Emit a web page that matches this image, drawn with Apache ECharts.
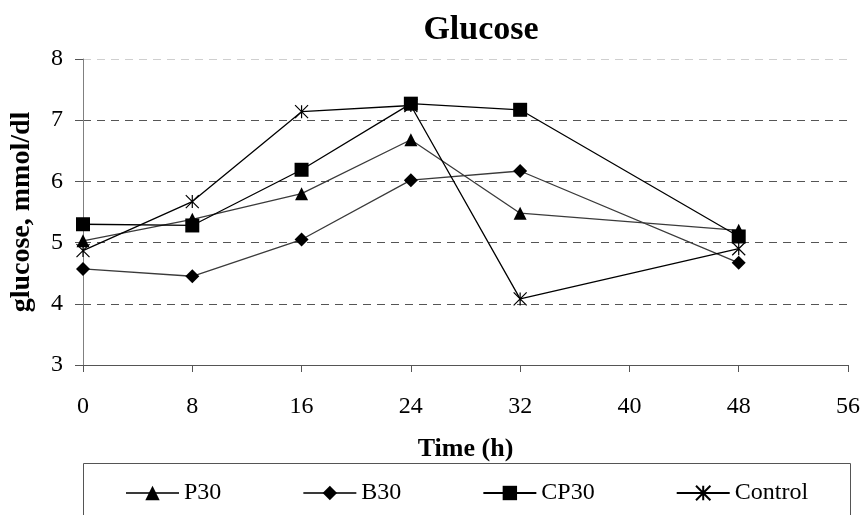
<!DOCTYPE html>
<html>
<head>
<meta charset="utf-8">
<script src="https://cdn.jsdelivr.net/npm/echarts@6/dist/echarts.min.js"></script>
<style>html,body{margin:0;padding:0;background:#fff;}#c{width:865px;height:515px;}</style>
</head>
<body>
<div id="c"></div>
<script>
var hours = [0, 8, 16, 24, 32, 48];
var p30 = [5.03, 5.38, 5.8, 6.68, 5.48, 5.2];
var b30 = [4.57, 4.45, 5.05, 6.02, 6.17, 4.67];
var cp30 = [5.3, 5.28, 6.19, 7.27, 7.17, 5.1];
var control = [4.87, 5.67, 7.14, 7.24, 4.08, 4.9];
var seriesNames = ['P30', 'B30', 'CP30', 'Control'];

function pairs(vals) { return hours.map(function (h, i) { return [h, vals[i]]; }); }

var font = '"Liberation Serif", "Times New Roman", serif';
var starPath = 'path://M0,0L10,10M10,0L0,10M5,0L5,10';

var chart = echarts.init(document.getElementById('c'));
chart.setOption({
  animation: false,
  backgroundColor: '#fff',
  title: {
    text: 'Glucose', left: 476, top: 8, textAlign: 'center',
    textStyle: { fontFamily: font, fontSize: 34, fontWeight: 'bold', color: '#000' }
  },
  grid: { left: 83, right: 17, top: 59, bottom: 150, containLabel: false, outerBoundsMode: 'none' },
  xAxis: {
    type: 'value', min: 0, max: 56, interval: 8,
    name: 'Time (h)', nameLocation: 'middle', nameGap: 71,
    nameTextStyle: { fontFamily: font, fontSize: 26, fontWeight: 'bold', color: '#000' },
    axisLine: { lineStyle: { color: '#555', width: 1 } },
    axisTick: { show: true, inside: false, length: 7, lineStyle: { color: '#555' } },
    axisLabel: { fontFamily: font, fontSize: 24, color: '#000', margin: 30 },
    splitLine: { show: false }
  },
  yAxis: {
    type: 'value', min: 3, max: 8, interval: 1,
    name: 'glucose, mmol/dl', nameLocation: 'middle', nameGap: 47, nameRotate: 90,
    nameTextStyle: { fontFamily: font, fontSize: 28, fontWeight: 'bold', color: '#000' },
    axisLine: { show: true, lineStyle: { color: '#808080', width: 1 } },
    axisTick: { show: true, inside: false, length: 8, lineStyle: { color: '#555' } },
    axisLabel: { fontFamily: font, fontSize: 24, color: '#000', margin: 20 },
    splitLine: { show: true, lineStyle: { type: [8, 6], width: 1, color: ['#555', '#555', '#555', '#555', '#555', '#cfcfcf'] } }
  },
  legend: {
    left: 120, top: 476, itemGap: 81, itemWidth: 53, itemHeight: 18,
    textStyle: { fontFamily: font, fontSize: 24, color: '#000' },
    data: seriesNames
  },
  graphic: [{
    type: 'rect', shape: { x: 83.5, y: 463.5, width: 767, height: 80 },
    style: { fill: 'none', stroke: '#555', lineWidth: 1 }, silent: true
  }],
  series: [
    { name: 'P30', type: 'line', data: pairs(p30), symbol: 'triangle', symbolSize: 13,
      lineStyle: { color: '#3a3a3a', width: 1.3 }, itemStyle: { color: '#000' } },
    { name: 'B30', type: 'line', data: pairs(b30), symbol: 'diamond', symbolSize: 14,
      lineStyle: { color: '#3a3a3a', width: 1.3 }, itemStyle: { color: '#000' } },
    { name: 'CP30', type: 'line', data: pairs(cp30), symbol: 'rect', symbolSize: 14,
      lineStyle: { color: '#000', width: 1.3 }, itemStyle: { color: '#000' } },
    { name: 'Control', type: 'line', data: pairs(control), symbol: starPath, symbolSize: 13,
      lineStyle: { color: '#000', width: 1.3 }, itemStyle: { color: 'none', borderColor: '#000', borderWidth: 1.2 } }
  ]
});
</script>
</body>
</html>
